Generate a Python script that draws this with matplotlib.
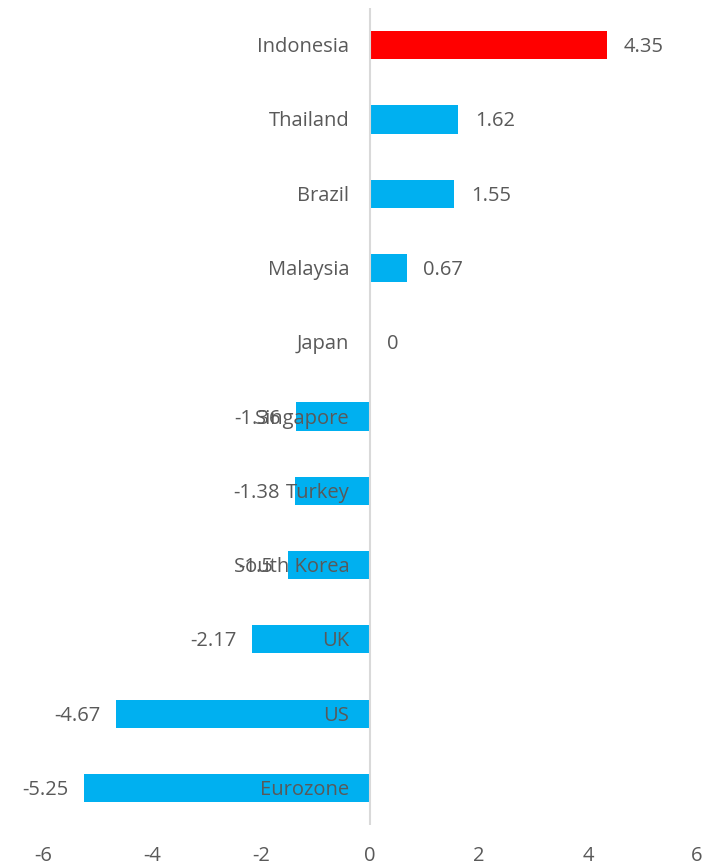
import matplotlib
matplotlib.use("Agg")
import matplotlib.pyplot as plt

countries = ["Indonesia", "Thailand", "Brazil", "Malaysia", "Japan", "Singapore",
             "Turkey", "South Korea", "UK", "US", "Eurozone"]
values = [4.35, 1.62, 1.55, 0.67, 0, -1.36, -1.38, -1.5, -2.17, -4.67, -5.25]
value_labels = ["4.35", "1.62", "1.55", "0.67", "0", "-1.36", "-1.38", "-1.5", "-2.17", "-4.67", "-5.25"]
highlight = "Indonesia"
xticks = [-6, -4, -2, 0, 2, 4, 6]

plt.rcParams['font.family'] = ['Open Sans', 'DejaVu Sans']
txt = "#595959"
fs = 14.5

fig = plt.figure(figsize=(7.17, 8.67), dpi=100)
ax = fig.add_axes([0.06, 0.0484, 0.9121, 0.9424])

n = len(countries)
ypos = list(range(n))[::-1]
colors = ["#FF0000" if c == highlight else "#00B0F0" for c in countries]
ax.barh(ypos, values, height=0.38, color=colors, zorder=2)
ax.set_ylim(-0.5, n - 0.5)
ax.set_xlim(-6, 6)
ax.set_xticks(xticks)
ax.set_xticklabels([str(t) for t in xticks], fontsize=fs, color=txt)
ax.tick_params(axis='x', length=0, pad=15)
ax.set_yticks([])
for s in ax.spines.values():
    s.set_visible(False)
ax.axvline(0, color="#D9D9D9", lw=1.5, zorder=3)

dy = -1.5
for y, c, v, lab in zip(ypos, countries, values, value_labels):
    ax.annotate(c, xy=(0, y), xytext=(-15, dy), textcoords='offset points',
                ha='right', va='center', fontsize=fs, color=txt, zorder=5)
    if v >= 0:
        ax.annotate(lab, xy=(v, y), xytext=(12, dy), textcoords='offset points',
                    ha='left', va='center', fontsize=fs, color=txt, zorder=5)
    else:
        ax.annotate(lab, xy=(v, y), xytext=(-11, dy), textcoords='offset points',
                    ha='right', va='center', fontsize=fs, color=txt, zorder=5)

fig.savefig("out.png", dpi=100)
